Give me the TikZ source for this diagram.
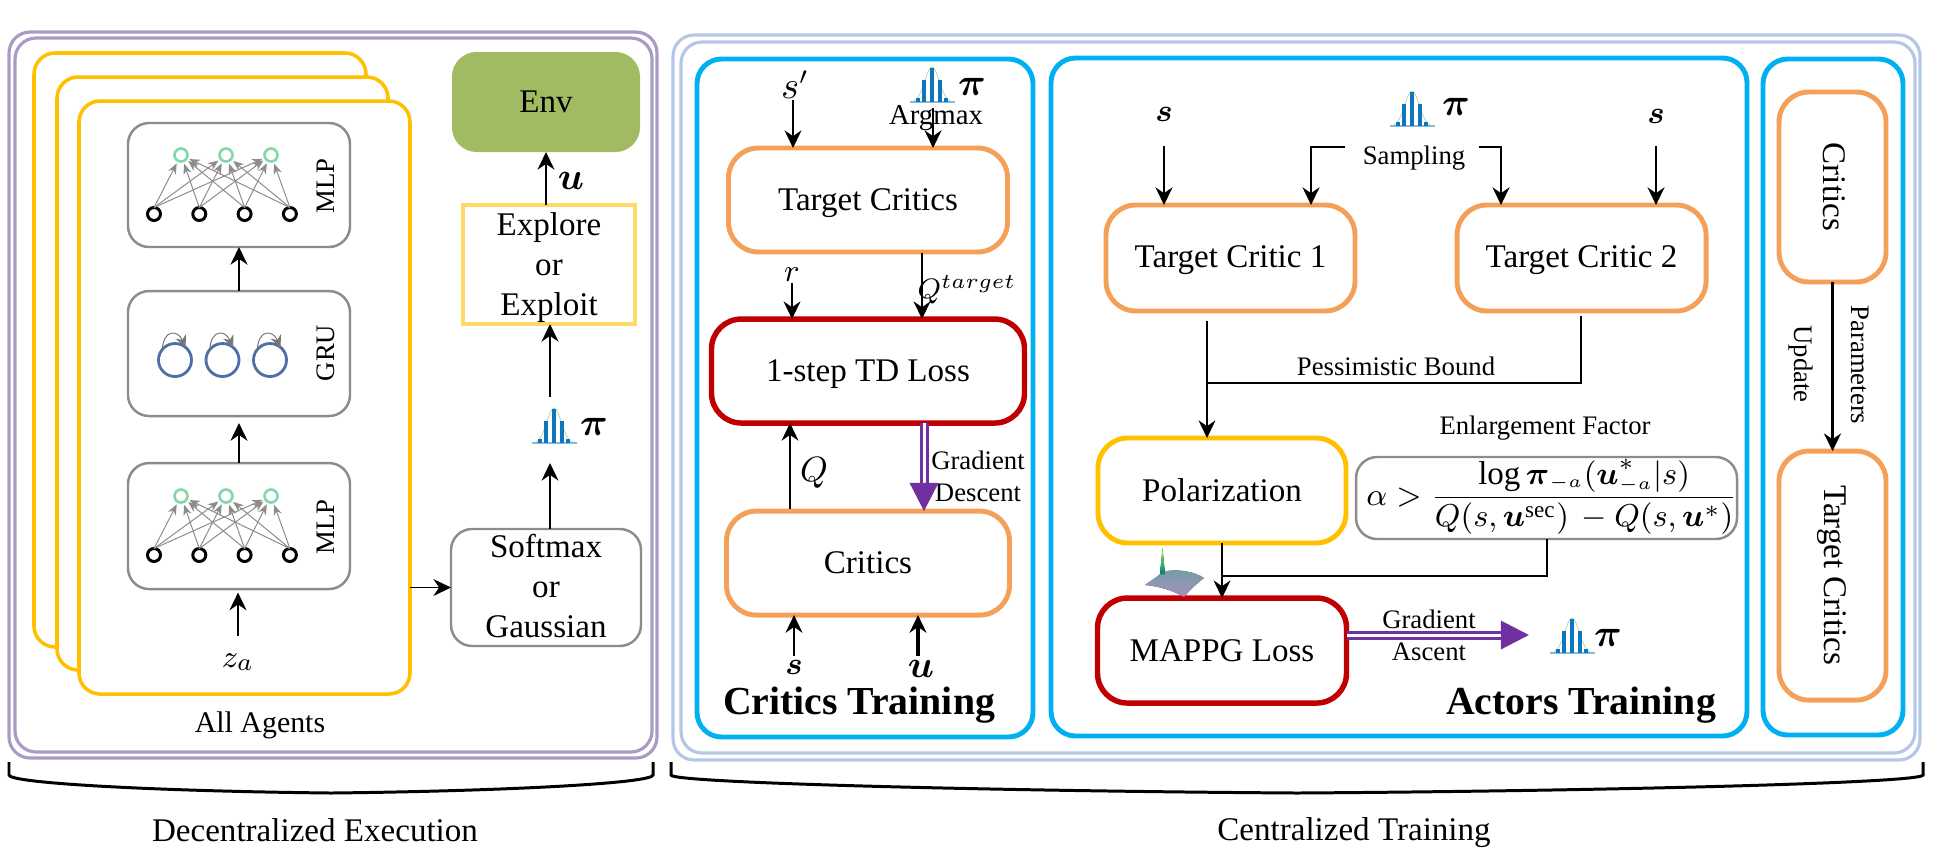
\documentclass[tikz,border=0pt]{standalone}
\usepackage{amsmath}
\usepackage{fontspec}
\setmainfont{Liberation Serif}
\usetikzlibrary{positioning,arrows.meta}
\definecolor{execpurple}{HTML}{A99BC6}
\definecolor{trainblue}{HTML}{B4C7E7}
\definecolor{panelcyan}{HTML}{00B0F0}
\definecolor{agentgold}{HTML}{FFC000}
\definecolor{explgold}{HTML}{FFD966}
\definecolor{criticorange}{HTML}{F4A058}
\definecolor{lossred}{HTML}{C00000}
\definecolor{envgreen}{HTML}{A0BB62}
\definecolor{netgrey}{HTML}{8C8C8C}
\definecolor{outgreen}{HTML}{84D8A8}
\definecolor{grublue}{HTML}{4F6EA8}
\definecolor{gradpurple}{HTML}{7030A0}
\definecolor{barblue}{HTML}{0E76BC}
\definecolor{surftop}{HTML}{7FAEB8}
\definecolor{surfbot}{HTML}{B59CCB}
\tikzset{
  policy/.pic={
    \draw[green!35!gray!50,line width=.2pt] (-20,0) .. controls (-9,-2) and (-6,-35) .. (0,-35)
      .. controls (6,-35) and (9,-2) .. (20,0);
    \draw[barblue!50,line width=.3pt] (-22,0) -- (23,0);
    \fill[barblue] (-2.4,0) rectangle (2.4,-34);
    \foreach \bx/\bh in {-8/22,8/22,-14/4,14/4}
      \fill[barblue] ({\bx-2.4},0) rectangle ({\bx+2.4},-\bh);
  }
}
\newcommand{\bigpi}{\fontsize{11}{13}\selectfont$\boldsymbol{\pi}$}
\newcommand{\bigu}{\fontsize{10.5}{12}\selectfont$\boldsymbol{u}$}
\begin{document}
\begin{tikzpicture}[>={Stealth[length=5pt,width=4.8pt]},x=0.01cm,y=-0.01cm,
   every node/.style={font=\fontsize{9.4}{11.4}\selectfont,inner sep=0pt,outer sep=0pt},
   boxsize/.style 2 args={minimum width=#1*0.01cm,minimum height=#2*0.01cm},
   frame/.style={draw=#1,line width=.9pt,rounded corners=6pt},
   panel/.style={draw=panelcyan,line width=1.4pt,rounded corners=7pt},
   agent/.style={draw=agentgold,fill=white,line width=1pt,rounded corners=6pt,boxsize={331}{593}},
   netbox/.style={draw=netgrey,line width=.7pt,rounded corners=6pt},
   criticbox/.style={draw=criticorange,line width=1.4pt,rounded corners=8.5pt},
   lossbox/.style={draw=lossred,line width=1.55pt,rounded corners=8.5pt},
   polbox/.style={draw=agentgold,line width=1.4pt,rounded corners=8.5pt},
   small/.style={font=\fontsize{7.6}{9}\selectfont},
   netlabel/.style={font=\fontsize{7.6}{9}\selectfont,rotate=90},
   head/.style={font=\fontsize{11.3}{13}\selectfont\bfseries},
   arrow/.style={->,line width=.75pt},
   thin arrow/.style={->,line width=.55pt},
   edge/.style={-{Stealth[length=3pt,width=2.4pt]},draw=netgrey,line width=.28pt,shorten >=.8pt},
   selfloop/.style={-{Stealth[length=3.4pt,width=3.2pt]},draw=netgrey!85!black,line width=.28pt},
   gradarrow/.style={-{Triangle[length=8pt,width=8pt]},draw=gradpurple,double=white,
     double distance=.85pt,line width=.85pt}]
  \useasboundingbox (0,0) rectangle (1946,860);

  \node (execout) [frame=execpurple,boxsize={648}{726}] at (333,395) {};
  \node (execin) [frame=execpurple,boxsize={637}{714}] at (333.5,395) {};
  \node (trainout) [frame=trainblue,boxsize={1247}{725}] at (1296.5,397.5) {};
  \node (trainin) [frame=trainblue,boxsize={1234}{711}] at (1298,397.5) {};
  \node (critpanel) [panel,boxsize={336}{678}] at (865,398) {};
  \node (actpanel) [panel,boxsize={696}{678}] at (1399,397) {};
  \node (updpanel) [panel,boxsize={140}{676}] at (1833,397) {};

  \node (agenta) [agent,boxsize={332}{594}] at (200,350) {};
  \node (agentb) [agent] at (222.5,373.5) {};
  \node (agentc) [agent] at (244.5,397.5) {};
  \node (agents) at (260,725) {\fontsize{8.5}{10}\selectfont All Agents};

  \node (mlpa) [netbox,boxsize={222}{124}] at (239,185) {};
  \node (gru) [netbox,boxsize={222}{125},below=.44cm of mlpa] {};
  \node (mlpb) [netbox,boxsize={222}{126},below=.47cm of gru] {};
  \node (mlpalab) [netlabel] at (326,186) {MLP};
  \node (grulab) [netlabel] at (326,353) {GRU};
  \node (mlpblab) [netlabel] at (326,527) {MLP};

  \foreach \net/\yb in {a/214,b/555} {
    \foreach \i in {1,2,3,4}
      \node (in\net\i) [circle,draw=black,line width=.85pt,minimum size=13*0.01cm] at ({154+45.3*(\i-1)},\yb) {};
    \foreach \j in {1,2,3}
      \node (out\net\j) [circle,draw=outgreen,line width=.75pt,minimum size=13*0.01cm] at ({181+45*(\j-1)},\yb-59) {};
    \foreach \i in {1,2,3,4}
      \foreach \j in {1,2,3}
        \draw[edge] (in\net\i.north) -- (out\net\j);
  }
  \foreach \k/\gx in {1/175,2/222.5,3/270} {
    \node (cell\k) [circle,draw=grublue,line width=.8pt,minimum size=33*0.01cm] at (\gx,360) {};
    \draw[selfloop] (cell\k.140) .. controls +(1,-20) and +(-8,-18) .. (cell\k.50);
  }

  \node (za) at (238,662) {$z_a$};
  \coordinate (zastart) at (238,636);
  \draw[arrow,shorten >=1pt] (zastart) -- (zastart |- mlpb.south);
  \draw[arrow,line width=.85pt,shorten >=2pt] (mlpb.north) -- (gru.south);
  \draw[arrow,line width=.85pt] (gru.north) -- (mlpa.south);

  \node (env) [fill=envgreen,rounded corners=7pt,boxsize={188}{100}] at (546,102) {Env};
  \node (explore) [draw=explgold,line width=1.3pt,boxsize={172}{119}] at (549,264.5) {};
  \node (explab) [align=center] at (549,267.5) {Explore\\or\\Exploit};
  \node (softmax) [netbox,boxsize={190}{117}] at (546,587.5) {};
  \node (softlab) [align=center] at (546,585.7) {Softmax\\or\\Gaussian};
  \pic (pia) at (554,443) {policy};
  \node (pialab) at (594,427) {\bigpi};
  \node (ulab) at (571,181) {\bigu};
  \coordinate (piup) at (550,397);
  \coordinate (pidown) at (550,463);
  \draw[thin arrow] (agentc.east |- softmax.west) -- (softmax.west);
  \draw[thin arrow] (softmax.north -| pidown) -- (pidown);
  \draw[thin arrow] (piup) -- (piup |- explore.south);
  \draw[arrow] (explore.north -| env.south) -- (env.south);

  \node (tcrit) [criticbox,boxsize={279}{104},text depth=0pt] at (868,200) {Target Critics};
  \node (tdloss) [lossbox,boxsize={313}{104},below=.67cm of tcrit,text depth=0pt] {1-step TD Loss};
  \node (crit) [criticbox,boxsize={283}{104},below=.88cm of tdloss] {Critics};
  \node (sprime) at (795,85) {\fontsize{10.5}{12}\selectfont$s'$};
  \pic (pib) at (932,102) {policy};
  \node (piblab) at (972,87) {\bigpi};
  \node (argmax) at (936,118) {\fontsize{8.2}{10}\selectfont Argmax};
  \node (rlab) at (792,275) {$r$};
  \node (qtlab) at (967,290) {\fontsize{8.5}{10}\selectfont$Q^{target}$};
  \node (qlab) at (814,473) {\fontsize{10}{12}\selectfont$Q$};
  \node (gdlab) [small,align=center] at (978,476) {Gradient\\[.1pt]Descent};
  \node (slab) at (794,667) {$\boldsymbol{s}$};
  \node (ulabb) at (921,669) {\bigu};
  \node (crithead) [head] at (859,705) {Critics Training};
  \coordinate (spstart) at (793,100);
  \coordinate (argstart) at (933,108);
  \coordinate (rstart) at (792,283);
  \coordinate (qtpos) at (922,253);
  \coordinate (qpos) at (790,509);
  \coordinate (gdpos) at (924,423);
  \coordinate (spos) at (794,656);
  \coordinate (upos) at (918,656);
  \draw[thin arrow] (spstart) -- (spstart |- tcrit.north);
  \draw[arrow] (argstart) -- (argstart |- tcrit.north);
  \draw[thin arrow] (rstart) -- (rstart |- tdloss.north);
  \draw[arrow] (qtpos) -- (qtpos |- tdloss.north);
  \draw[thin arrow] (qpos) -- (qpos |- tdloss.south);
  \draw[gradarrow] (gdpos) -- (gdpos |- crit.north);
  \draw[arrow] (spos) -- (spos |- crit.south);
  \draw[arrow,line width=1pt] (upos) -- (upos |- crit.south);

  \node (tca) [criticbox,boxsize={249}{106},text depth=.1em] at (1230.5,258) {Target Critic 1};
  \node (tcb) [criticbox,boxsize={249}{106},right=1.02cm of tca,text depth=.1em] {Target Critic 2};
  \node (pol) [polbox,boxsize={248}{105}] at (1222,490.5) {Polarization};
  \node (mappg) [lossbox,boxsize={249}{105},below=.55cm of pol] {MAPPG Loss};
  \node (enlarge) [netbox,boxsize={381}{82}] at (1546.5,498) {};
  \node (enlab) [small] at (1545,428) {Enlargement Factor};
  \node (eqn) at (1552,497) {$\alpha>\dfrac{\log\boldsymbol{\pi}_{\scriptscriptstyle -a}(\boldsymbol{u}^{*}_{\scriptscriptstyle -a}|s)}{Q(s,\boldsymbol{u}^{\mathrm{sec}})\,-Q(s,\boldsymbol{u}^{*})}$};
  \node (sa) at (1164,114) {$\boldsymbol{s}$};
  \node (sb) at (1656,116) {$\boldsymbol{s}$};
  \pic (pic) at (1412,126) {policy};
  \node (piclab) at (1456,107) {\bigpi};
  \node (sampling) [small] at (1414,158) {Sampling};
  \node (bound) [small] at (1396,366) {Pessimistic Bound};
  \node (galab) [small,align=center] at (1429,635) {Gradient\\[.1pt]Ascent};
  \pic (pid) at (1572,653) {policy};
  \node (pidlab) at (1608,638) {\bigpi};
  \node (acthead) [head] at (1581,705) {Actors Training};
  \coordinate (saend) at (1164,146);
  \coordinate (sbend) at (1656,146);
  \coordinate (samplea) at (1345,147);
  \coordinate (sampleb) at (1479,147);
  \coordinate (turna) at (1311,147);
  \coordinate (turnb) at (1501,147);
  \coordinate (tcaout) at (1207,321);
  \coordinate (tcbout) at (1581,316);
  \coordinate (joinpb) at (1207,383);
  \coordinate (eqout) at (1547,539);
  \coordinate (joinef) at (1222,576);
  \draw[arrow] (saend) -- (saend |- tca.north);
  \draw[arrow] (sbend) -- (sbend |- tcb.north);
  \draw[arrow] (samplea) -- (turna) -- (turna |- tca.north);
  \draw[arrow] (sampleb) -- (turnb) -- (turnb |- tcb.north);
  \draw[line width=.75pt] (tcbout) |- (joinpb);
  \draw[line width=.75pt] (tcaout) -- (joinpb);
  \draw[thin arrow] (joinpb) -- (joinpb |- pol.north);
  \draw[thin arrow] (pol.south) -- (mappg.north);
  \draw[line width=.6pt] (eqout) |- (joinef);
  \coordinate (gaend) at (1529,635);
  \draw[gradarrow] (mappg.east |- gaend) -- (gaend);
  \fill[top color=surftop,bottom color=surfbot,opacity=.9] (1145,585) .. controls (1155,578) and (1160,575) .. (1162,572)
    .. controls (1178,568) and (1195,572) .. (1204,578) .. controls (1196,584) and (1190,590) .. (1184,597)
    .. controls (1172,590) and (1158,586) .. (1145,585);
  \fill[top color=green!60!yellow!70,bottom color=teal] (1160,574) -- (1162.5,548) -- (1165,574) -- cycle;

  \node (upcrit) [criticbox,boxsize={107}{190}] at (1832.5,187) {};
  \node (uptarget) [criticbox,boxsize={107}{249},below=1.69cm of upcrit] {};
  \node (upcritlab) [rotate=-90] at (1834,187) {Critics};
  \node (uptargetlab) [rotate=-90] at (1832,575) {Target Critics};
  \node (parlab) [small,rotate=-90] at (1860,365) {Parameters};
  \node (updlab) [small,rotate=-90] at (1801,364) {Update};
  \draw[arrow,line width=.85pt] (upcrit.south) -- (uptarget.north);

  \draw[line width=.85pt] (9,762) -- (9,775) .. controls (9,783) and (150,791) .. (331,793)
    .. controls (510,791) and (653,783) .. (653,775) -- (653,762);
  \draw[line width=.85pt] (671,762) -- (671,775) .. controls (671,783) and (1000,791) .. (1297,793)
    .. controls (1600,791) and (1923,783) .. (1923,775) -- (1923,762);
  \node (declab) at (315,830) {Decentralized Execution};
  \node (cenlab) at (1354,833) {Centralized Training};
\end{tikzpicture}
\end{document}
